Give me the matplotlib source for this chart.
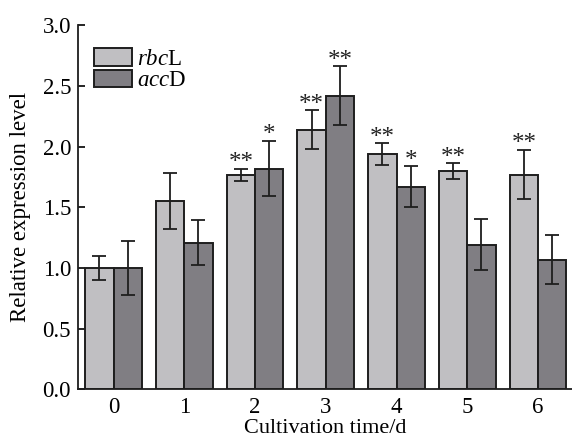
import matplotlib
matplotlib.use("Agg")
import matplotlib.pyplot as plt
import numpy as np

days = ["0", "1", "2", "3", "4", "5", "6"]
rbcL = [1.00, 1.55, 1.77, 2.14, 1.94, 1.80, 1.77]
rbcL_err = [0.10, 0.23, 0.05, 0.16, 0.09, 0.065, 0.205]
accD = [1.00, 1.21, 1.82, 2.42, 1.67, 1.19, 1.07]
accD_err = [0.22, 0.185, 0.23, 0.245, 0.17, 0.21, 0.20]
rbcL_sig = ["", "", "**", "**", "**", "**", "**"]
accD_sig = ["", "", "*", "**", "*", "", ""]
yticks = [0.0, 0.5, 1.0, 1.5, 2.0, 2.5, 3.0]

plt.rcParams["font.family"] = ["Liberation Serif", "DejaVu Serif"]
plt.rcParams["mathtext.fontset"] = "custom"
plt.rcParams["mathtext.rm"] = "Liberation Serif"
plt.rcParams["mathtext.it"] = "Liberation Serif:italic"

FS = 16.5
fig = plt.figure(figsize=(5.72, 4.41), dpi=100)
ax = fig.add_axes([0.1364, 0.117, 0.8636, 0.8256])

x = np.arange(len(days))
w = 0.4
light = "#c0bfc2"
dark = "#807e83"
edge = "#1e1e1e"

ax.bar(x - w / 2, rbcL, w, color=light, edgecolor=edge, linewidth=1.4,
       label=r"$\it{rbc}$L", zorder=2)
ax.bar(x + w / 2, accD, w, color=dark, edgecolor=edge, linewidth=1.4,
       label=r"$\it{acc}$D", zorder=2)
ax.errorbar(x - w / 2, rbcL, yerr=rbcL_err, fmt="none", ecolor=edge,
            elinewidth=1.3, capsize=5, capthick=1.3, zorder=3)
ax.errorbar(x + w / 2, accD, yerr=accD_err, fmt="none", ecolor=edge,
            elinewidth=1.3, capsize=5, capthick=1.3, zorder=3)

for i in range(len(days)):
    if rbcL_sig[i]:
        ax.text(x[i] - w / 2, rbcL[i] + rbcL_err[i] - 0.005, rbcL_sig[i],
                ha="center", va="baseline", fontsize=18, color="#222222")
    if accD_sig[i]:
        ax.text(x[i] + w / 2, accD[i] + accD_err[i] - 0.005, accD_sig[i],
                ha="center", va="baseline", fontsize=18, color="#222222")

ax.set_xlim(-0.502, 6.48)
ax.set_ylim(0, 3.0)
ax.set_yticks(yticks)
ax.set_yticklabels([f"{t:.1f}" for t in yticks])
ax.set_xticks(x)
ax.set_xticklabels(days)
ax.tick_params(axis="y", direction="in", length=5, width=1.2, labelsize=FS, pad=5)
ax.tick_params(axis="x", length=0, labelsize=FS, pad=5.5)
for s in ["top", "right"]:
    ax.spines[s].set_visible(False)
for s in ["left", "bottom"]:
    ax.spines[s].set_linewidth(1.3)
    ax.spines[s].set_color(edge)

ax.set_ylabel("Relative expression level", fontsize=FS, labelpad=8)
ax.set_xlabel("Cultivation time/d", fontsize=16, labelpad=0.5)

ax.legend(loc="upper left", bbox_to_anchor=(0.005, 0.975), frameon=False,
          fontsize=FS, handlelength=1.66, handleheight=0.79,
          labelspacing=0.0, handletextpad=0.2, borderaxespad=0.2)

fig.savefig("out.png", dpi=100)
